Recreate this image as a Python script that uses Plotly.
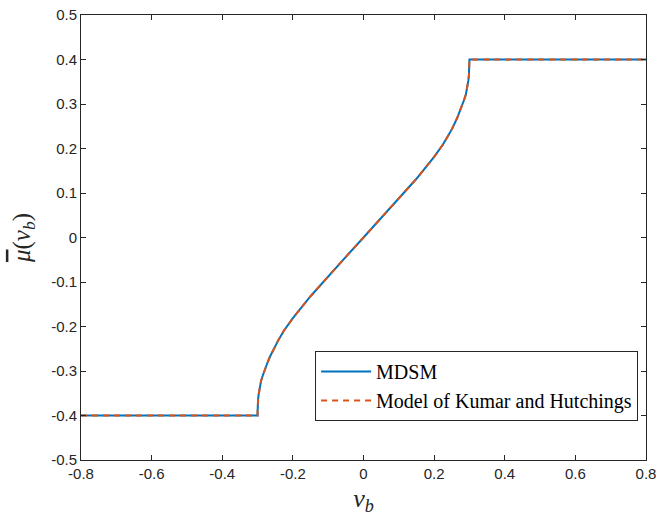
import plotly.graph_objects as go

# Sliding velocity samples and mean friction coefficient
v_b = [-0.8, -0.3, -0.2999, -0.2998, -0.2993, -0.2985, -0.297, -0.295, -0.2925,
       -0.29, -0.285, -0.28, -0.272, -0.265, -0.25, -0.24, -0.225, -0.2,
       -0.15, -0.1, -0.05, 0.0,
       0.05, 0.1, 0.15, 0.2, 0.225, 0.24, 0.25, 0.265, 0.272, 0.28, 0.285,
       0.29, 0.2925, 0.295, 0.297, 0.2985, 0.2993, 0.2998, 0.2999, 0.3, 0.8]
mu_mdsm = [-0.4, -0.4, -0.39, -0.382, -0.373, -0.364, -0.353, -0.342, -0.331,
           -0.322, -0.3095, -0.2975, -0.2815, -0.268, -0.243, -0.229, -0.209, -0.181,
           -0.132, -0.087, -0.0435, 0.0,
           0.0435, 0.087, 0.132, 0.181, 0.209, 0.229, 0.243, 0.268, 0.2815, 0.2975, 0.3095,
           0.322, 0.331, 0.342, 0.353, 0.364, 0.373, 0.382, 0.39, 0.4, 0.4]
mu_kh = [-0.4, -0.4, -0.39, -0.382, -0.373, -0.364, -0.353, -0.342, -0.331,
         -0.322, -0.3095, -0.2975, -0.2815, -0.268, -0.243, -0.229, -0.209, -0.181,
         -0.132, -0.087, -0.0435, 0.0,
         0.0435, 0.087, 0.132, 0.181, 0.209, 0.229, 0.243, 0.268, 0.2815, 0.2975, 0.3095,
         0.322, 0.331, 0.342, 0.353, 0.364, 0.373, 0.382, 0.39, 0.4, 0.4]

x_ticks = [-0.8, -0.6, -0.4, -0.2, 0, 0.2, 0.4, 0.6, 0.8]
x_labels = ["-0.8", "-0.6", "-0.4", "-0.2", "0", "0.2", "0.4", "0.6", "0.8"]
y_ticks = [-0.5, -0.4, -0.3, -0.2, -0.1, 0, 0.1, 0.2, 0.3, 0.4, 0.5]
y_labels = ["-0.5", "-0.4", "-0.3", "-0.2", "-0.1", "0", "0.1", "0.2", "0.3", "0.4", "0.5"]

BLUE = "#0072BD"
ORANGE = "#D95319"
AXIS = "#262626"
SERIF = "Liberation Serif, Times New Roman, serif"

fig = go.Figure()
fig.add_trace(go.Scatter(x=v_b, y=mu_mdsm, mode="lines", name="MDSM",
                         line=dict(color=BLUE, width=2)))
fig.add_trace(go.Scatter(x=v_b, y=mu_kh, mode="lines",
                         name="Model of Kumar and Hutchings",
                         line=dict(color=ORANGE, width=2, dash="6px,5px")))

axis_common = dict(
    showgrid=False, zeroline=False, showline=True, linecolor=AXIS,
    linewidth=1, mirror="ticks", ticks="inside", ticklen=5, tickcolor=AXIS,
    automargin=False,
    tickfont=dict(family="Liberation Sans, Arial, sans-serif", size=15, color=AXIS),
)

fig.update_xaxes(range=[-0.8, 0.8], tickvals=x_ticks, ticktext=x_labels,
                 title=dict(text="<i>v</i><sub><i>b</i></sub>",
                            font=dict(family=SERIF, size=26, color=AXIS),
                            standoff=14),
                 **axis_common)
fig.update_yaxes(range=[-0.5, 0.5], tickvals=y_ticks, ticktext=y_labels,
                 title=dict(text='<span style="text-decoration:overline"><i>μ</i></span>'
                                 '(<i>v</i><sub><i>b</i></sub>)',
                            font=dict(family=SERIF, size=25, color=AXIS),
                            standoff=13),
                 **axis_common)

fig.update_layout(
    width=658, height=516,
    margin=dict(l=81, r=12, t=15, b=56),
    paper_bgcolor="white", plot_bgcolor="white",
    legend=dict(x=0.986, y=0.0876, xanchor="right", yanchor="bottom",
                bgcolor="white", bordercolor=AXIS, borderwidth=1,
                font=dict(family=SERIF, size=20, color="#000000"),
                tracegroupgap=0, itemwidth=50),
)

fig.write_html("out.html")
